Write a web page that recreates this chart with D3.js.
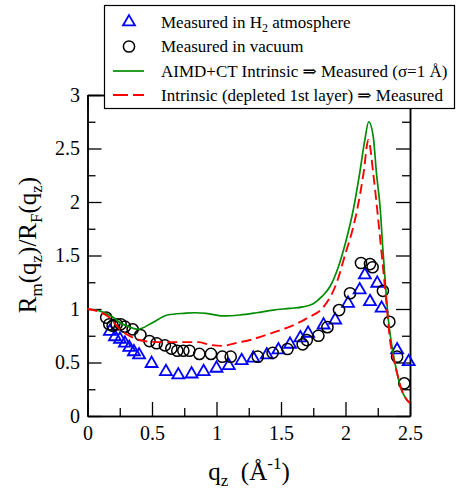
<!DOCTYPE html>
<html>
<head>
<meta charset="UTF-8">
<title>Rm/RF vs qz</title>
<style>
body { margin:0; background:#fff; }
text { font-family:'Liberation Serif', 'Times New Roman', Times, 'DejaVu Serif', serif; }
.axis path { stroke:#000; stroke-width:1.5px; }
.axis line { stroke:#000; stroke-width:1.3px; }
.axis text { font-size:20px; fill:#000; }
</style>
</head>
<body>
<svg width="456" height="494"></svg>
<script src="https://cdn.jsdelivr.net/npm/d3@7"></script>
<script>
// measured in H2 atmosphere (triangles)
const h2Q = [0.174,0.213,0.252,0.29,0.324,0.36,0.40,0.497,0.608,0.704,0.807,0.90,1.0,1.095,1.195,1.285,1.39,1.48,1.57,1.65,1.71,1.83,1.92,2.02,2.11,2.15,2.19,2.246,2.28,2.40,2.49];
const h2V = [0.79,0.74,0.717,0.68,0.64,0.60,0.57,0.49,0.414,0.383,0.392,0.414,0.446,0.47,0.517,0.54,0.57,0.617,0.67,0.73,0.773,0.85,0.897,1.053,1.178,1.318,1.068,1.24,1.007,0.617,0.507];
// measured in vacuum (circles)
const vacQ = [0.145,0.169,0.195,0.226,0.257,0.29,0.35,0.41,0.48,0.536,0.60,0.65,0.696,0.743,0.79,0.867,0.957,1.045,1.11,1.32,1.435,1.55,1.668,1.70,1.79,1.86,1.95,2.035,2.12,2.19,2.21,2.29,2.34,2.40,2.456];
const vacV = [0.92,0.857,0.844,0.857,0.857,0.835,0.81,0.757,0.70,0.68,0.66,0.63,0.61,0.61,0.61,0.58,0.58,0.554,0.554,0.554,0.59,0.626,0.67,0.71,0.75,0.83,0.99,1.147,1.43,1.42,1.39,1.17,0.88,0.554,0.305];
// AIMD+CT intrinsic -> measured
const aimdQ = [0,0.1,0.2,0.26,0.32,0.39,0.5,0.62,0.75,0.83,0.92,1.05,1.18,1.31,1.44,1.57,1.67,1.75,1.82,1.88,1.945,2.0,2.06,2.11,2.15,2.18,2.215,2.24,2.27,2.29,2.31,2.33,2.36,2.40,2.435,2.47,2.5];
const aimdV = [1.0,0.98,0.92,0.866,0.835,0.81,0.87,0.944,0.96,0.965,0.96,0.935,0.944,0.965,0.99,1.006,1.02,1.05,1.12,1.21,1.395,1.62,1.925,2.27,2.58,2.75,2.61,2.27,1.925,1.55,1.224,0.93,0.65,0.40,0.243,0.16,0.12];
// intrinsic (depleted 1st layer) -> measured
const deplQ = [0,0.1,0.16,0.26,0.366,0.47,0.57,0.7,0.857,0.95,1.04,1.18,1.26,1.34,1.49,1.57,1.70,1.83,1.93,2.0,2.05,2.09,2.14,2.177,2.215,2.246,2.275,2.29,2.32,2.345,2.37,2.40,2.435,2.47,2.5];
const deplV = [1.0,0.97,0.93,0.80,0.726,0.695,0.69,0.69,0.69,0.665,0.655,0.69,0.71,0.74,0.80,0.835,0.913,1.02,1.24,1.52,1.72,1.925,2.27,2.58,2.27,1.925,1.58,1.40,1.02,0.71,0.55,0.40,0.243,0.16,0.12];

const majorX = [0,0.5,1,1.5,2,2.5];
const minorX = [0.25,0.75,1.25,1.75,2.25];
const majorY = [0,0.5,1,1.5,2,2.5,3];
const minorY = [0.25,0.75,1.25,1.75,2.25,2.75];

const svg = d3.select('svg');
const x = d3.scaleLinear().domain([0,2.5]).range([87.5,410]);
const y = d3.scaleLinear().domain([0,3]).range([416,95]);
const fmt = d => String(d);

// axes: major + minor, ticks pointing inward
function addAxis(gen, tr, vals, size, labels, pad){
  const a = gen.tickValues(vals).tickSizeInner(-size).tickSizeOuter(0).tickPadding(pad);
  a.tickFormat(labels ? fmt : () => '');
  const g = svg.append('g').attr('class','axis').attr('transform',tr).call(a);
  g.attr('font-family', null).attr('font-size', null);
  return g;
}
addAxis(d3.axisBottom(x), 'translate(0,416)', majorX, 14, true, 10);
addAxis(d3.axisBottom(x), 'translate(0,416)', minorX, 8, false, 0);
addAxis(d3.axisTop(x), 'translate(0,95)', majorX, 14, false, 0);
addAxis(d3.axisTop(x), 'translate(0,95)', minorX, 8, false, 0);
addAxis(d3.axisLeft(y), 'translate(87.5,0)', majorY, 14, true, 7.5);
addAxis(d3.axisLeft(y), 'translate(87.5,0)', minorY, 8, false, 0);
addAxis(d3.axisRight(y), 'translate(410,0)', majorY, 14, false, 0);
addAxis(d3.axisRight(y), 'translate(410,0)', minorY, 8, false, 0);

// data marks
const line = (qs, vs) => d3.line().x(i => x(qs[i])).y(i => y(vs[i])).curve(d3.curveMonotoneX)(d3.range(qs.length));

svg.append('g').selectAll('path').data(d3.range(h2Q.length)).join('path')
  .attr('d', d3.symbol(d3.symbolTriangle, 62))
  .attr('transform', i => `translate(${x(h2Q[i])},${y(h2V[i])})`)
  .attr('fill','none').attr('stroke','#0000ff').attr('stroke-width',1.8);

svg.append('g').selectAll('circle').data(d3.range(vacQ.length)).join('circle')
  .attr('cx', i => x(vacQ[i])).attr('cy', i => y(vacV[i])).attr('r',5.6)
  .attr('fill','none').attr('stroke','#000').attr('stroke-width',1.5);

svg.append('path').attr('d', line(aimdQ, aimdV))
  .attr('fill','none').attr('stroke','#008c00').attr('stroke-width',1.7);
svg.append('path').attr('d', line(deplQ, deplV))
  .attr('fill','none').attr('stroke','#ff0000').attr('stroke-width',1.9).attr('stroke-dasharray','10,5');

// axis titles
const xt = svg.append('text').attr('x',249).attr('y',480).attr('text-anchor','middle').attr('font-size',25);
xt.append('tspan').text('q');
xt.append('tspan').attr('font-size',17).attr('dy',6).text('z');
xt.append('tspan').attr('dy',-6).text('\u00a0 (\u00c5');
xt.append('tspan').attr('font-size',17).attr('dy',-11).text('-1');
xt.append('tspan').attr('dy',11).text(')');

const yt = svg.append('text').attr('transform','translate(36,245) rotate(-90)').attr('text-anchor','middle').attr('font-size',25);
[['R',0],['m',1],['(q',0],['z',1],[')/R',0],['F',1],['(q',0],['z',1],[')',0]].forEach(([t,s],k,arr) => {
  const prev = k > 0 ? arr[k-1][1] : 0;
  yt.append('tspan').attr('font-size', s ? 17 : 25).attr('dy', s === prev ? 0 : (s ? 6 : -6)).text(t);
});

// legend
const lg = svg.append('g');
lg.append('rect').attr('x',104.5).attr('y',5.5).attr('width',350).attr('height',103)
  .attr('fill','#fff').attr('stroke','#000').attr('stroke-width',1.2);
const rows = [22, 46.5, 71, 95];
lg.append('path').attr('d', d3.symbol(d3.symbolTriangle, 62)).attr('transform',`translate(129,${rows[0]})`)
  .attr('fill','none').attr('stroke','#0000ff').attr('stroke-width',1.8);
lg.append('circle').attr('cx',129).attr('cy',rows[1]).attr('r',5.6).attr('fill','none').attr('stroke','#000').attr('stroke-width',1.5);
lg.append('line').attr('x1',113).attr('x2',144).attr('y1',rows[2]).attr('y2',rows[2]).attr('stroke','#008c00').attr('stroke-width',1.7);
lg.append('line').attr('x1',113).attr('x2',144).attr('y1',rows[3]).attr('y2',rows[3]).attr('stroke','#ff0000').attr('stroke-width',1.9).attr('stroke-dasharray','15,5');
const t1 = lg.append('text').attr('x',161).attr('y',rows[0]+5.5).attr('font-size',17);
t1.append('tspan').text('Measured in H');
t1.append('tspan').attr('font-size',12).attr('dy',4).text('2');
t1.append('tspan').attr('dy',-4).text(' atmosphere');
lg.append('text').attr('x',161).attr('y',rows[1]+5.5).attr('font-size',17).text('Measured in vacuum');
lg.append('text').attr('x',161).attr('y',rows[2]+5.5).attr('font-size',17).text('AIMD+CT Intrinsic \u21d2 Measured (\u03c3=1 \u00c5)');
lg.append('text').attr('x',161).attr('y',rows[3]+5.5).attr('font-size',17).text('Intrinsic (depleted 1st layer) \u21d2 Measured');
</script>
</body>
</html>
